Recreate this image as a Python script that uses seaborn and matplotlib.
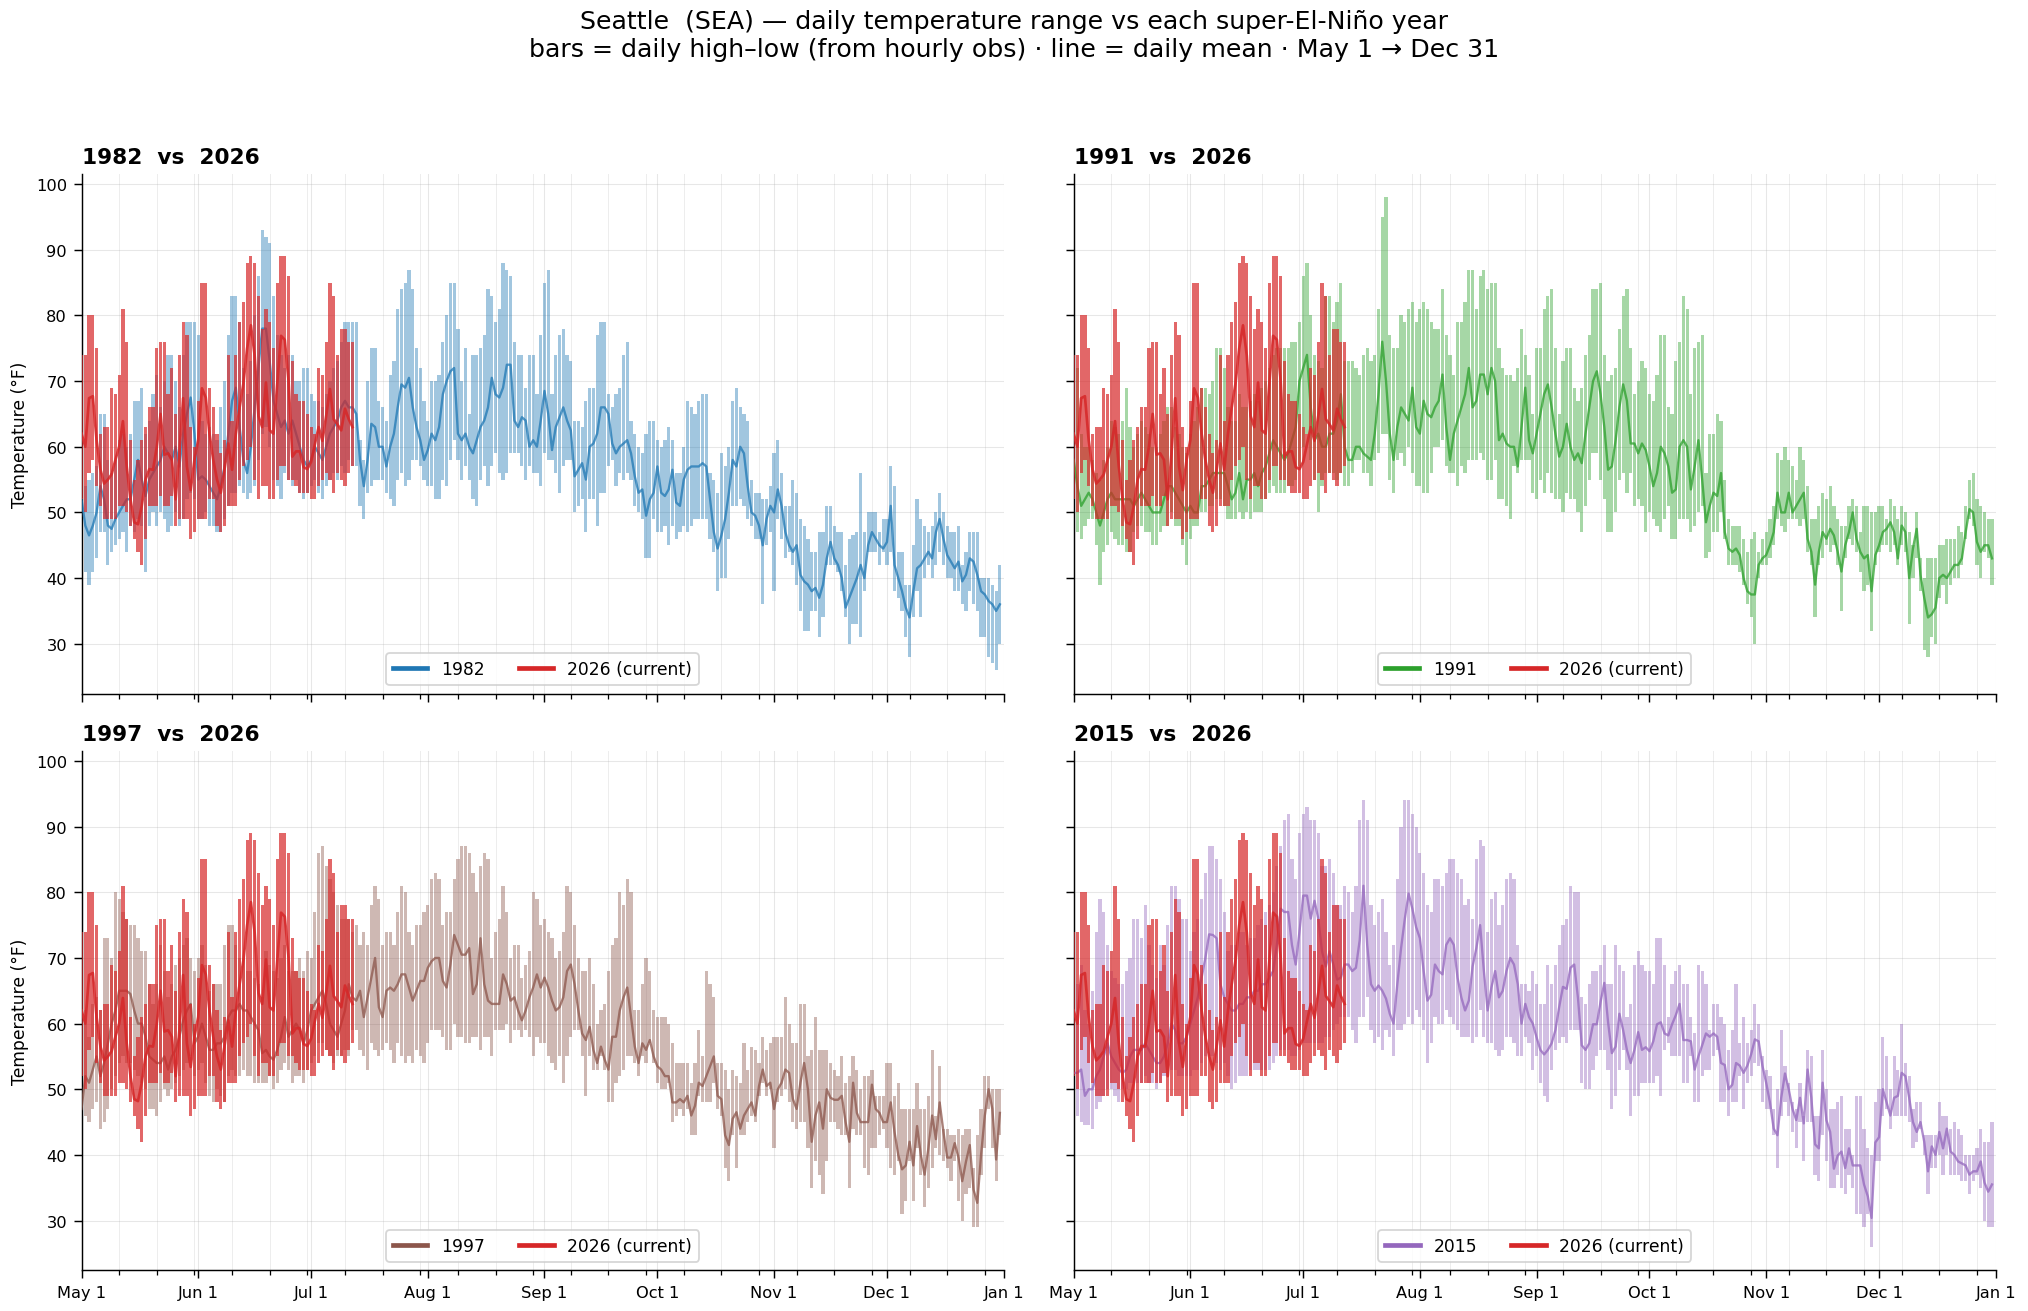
import numpy as np
import pandas as pd
import matplotlib
matplotlib.use("Agg")
import matplotlib.pyplot as plt
from matplotlib.lines import Line2D
from matplotlib.ticker import MultipleLocator, FixedLocator
import seaborn as sns

# x axis: day index counted from May 1 (0) to Dec 31 (244)
month_ticks = [0, 31, 61, 92, 123, 153, 184, 214, 245]
month_labels = ["May 1", "Jun 1", "Jul 1", "Aug 1", "Sep 1", "Oct 1", "Nov 1", "Dec 1", "Jan 1"]

# ---- 2026 (current), May 1 -> Jul 13 ----
lo_2026 = [52, 50, 56, 58, 54, 51, 49, 49, 49, 49, 51, 51, 50, 48, 46, 44, 42, 46, 51, 51,
           51, 52.5, 51, 51, 52.5, 48, 49, 49, 49, 46, 47, 49, 49, 49, 52, 52, 48, 47, 48, 51,
           51, 51, 55, 57, 58, 60, 55, 52, 54, 54, 52, 52, 55, 57, 57, 55, 55, 54, 53, 53,
           53, 52, 52, 54, 55, 56, 55, 53, 56, 55, 54, 56, 57]
hi_2026 = [74, 74, 80, 80, 75, 62, 63, 63, 69, 68, 71, 81, 76, 61, 55, 58, 61, 63, 66, 66,
           75, 76, 76, 68, 72, 65, 74, 79, 77, 63, 60, 67, 85, 85, 69, 66, 62, 59, 61, 74,
           64, 74, 79, 82, 88, 89, 88, 83, 78, 81, 79, 75, 85, 89, 89, 86, 73, 68, 67, 67,
           65, 63, 62, 72, 71, 76, 85, 83, 74, 78, 78, 76, 76]
mean_2026 = [62, 60, 67.4, 67.7, 61, 56.6, 54.4, 55, 55.8, 58, 60, 63.9, 57, 52, 48.5, 48.2, 51, 55, 56.6, 56.5,
             60, 65, 58.8, 59, 58, 52, 59, 67.4, 57, 53.4, 58, 61, 68.9, 67.5, 62, 58, 55, 53, 56.6, 60.5,
             56.5, 62, 66, 69.6, 75, 78.5, 73.9, 64.7, 63, 69.8, 62.5, 62, 69.6, 76.9, 76.3, 70.1, 58.5, 59.3, 59.3, 56.9,
             56.6, 57.7, 60.4, 63, 60.9, 64.7, 68.8, 64.2, 63.4, 62.5, 65.8, 64.2, 63]

# ---- 1982 ----
lo_1982 = [45, 41, 39, 41, 43, 47, 47, 42, 44, 45, 46, 47, 44, 48, 47, 49, 48, 41, 48, 50,
           48, 50, 49, 47, 48, 50, 48, 49, 52, 53, 52, 49, 49, 50, 48, 48, 47, 47, 49, 51,
           53, 53, 54, 53, 52, 53, 54, 58, 62, 63, 60, 55, 54, 52, 56, 55, 54, 55, 53, 52,
           53, 54, 55, 53, 52, 54, 55, 56, 55, 57, 56, 58, 57,
           57, 51, 49, 53, 54, 55, 55, 55, 53, 52, 51, 55, 56, 54, 55, 58, 58, 57, 55, 54,
           54, 52, 52, 55, 54, 58, 61, 58, 55, 57, 55, 52, 51, 55, 57, 54, 57, 59, 56, 55,
           56, 59, 59, 59, 57, 55, 57, 56, 56, 54,
           59, 58, 58, 56, 53, 57, 58, 58, 50, 51, 52, 47, 52, 52, 48, 53, 53, 57, 58, 54,
           56, 55, 56, 55, 51, 50, 49, 43, 43, 49, 47, 47, 48, 45, 48, 46, 47, 48, 47, 48,
           49, 49, 49, 49, 46, 44, 38, 40, 40, 46, 51, 51, 52, 51, 49, 48, 46, 46, 36, 45,
           47, 38, 49, 46, 43, 44, 42, 39, 35, 32, 32, 35, 35, 31, 34, 42, 42, 42, 41, 38,
           34, 30, 33, 33, 31, 38, 44, 44, 44, 42, 44, 42, 44, 38, 37, 35, 31, 28, 34, 38,
           34, 40, 42, 40, 42, 44, 42, 40, 40, 38, 38, 36, 35, 38, 36, 35, 31, 31, 28, 27,
           26, 30]
hi_1982 = [55, 54, 55, 56, 57, 65, 65, 58, 56, 58, 61, 62, 60, 62, 67, 67, 69, 62, 64, 68,
           71, 66, 70, 74, 74, 70, 66, 74, 79, 79, 79, 77, 64, 62, 63, 62, 61, 66, 70, 77,
           83, 83, 79, 72, 68, 73, 80, 86, 93, 92, 91, 83, 77, 74, 72, 74, 74, 70, 70, 72,
           72, 68, 67, 67, 66, 68, 70, 72, 73, 76, 79, 79, 79,
           79, 61, 58, 70, 75, 75, 67, 66, 64, 71, 73, 81, 84, 85, 87, 84, 75, 72, 67, 64,
           70, 70, 71, 76, 80, 85, 85, 78, 70, 75, 65, 74, 74, 75, 77, 84, 83, 79, 81, 88,
           87, 86, 76, 74, 74, 69, 74, 74, 68, 77,
           85, 87, 68, 74, 77, 78, 74, 73, 64, 64, 63, 67, 69, 69, 77, 79, 79, 68, 66, 68,
           69, 74, 76, 64, 62, 60, 59, 62, 64, 64, 61, 60, 61, 63, 61, 56, 56, 60, 67, 66,
           65, 67, 68, 68, 56, 55, 53, 59, 57, 60, 67, 69, 66, 65, 64, 55, 53, 53, 52, 52,
           54, 59, 61, 56, 51, 51, 55, 53, 49, 48, 46, 44, 44, 47, 47, 51, 51, 48, 47, 47,
           42, 46, 46.5, 47, 56, 47, 50, 50, 50, 47, 49, 49, 57, 54, 44, 44, 39, 39, 45, 52,
           49, 48, 47, 48, 50, 53, 50, 48, 47, 47, 48, 42, 44, 47, 47, 47, 40, 40, 40, 39,
           38, 42]
mean_1982 = [52, 48, 46.5, 48, 50, 54, 52, 48, 47.5, 49, 50, 51, 52, 52, 55, 58, 55, 52.5, 55, 56,
             57, 58, 60, 59, 58, 60, 57, 62, 65, 67.5, 62, 55, 55.5, 55, 54, 53, 52, 54, 57, 62,
             67, 69, 63, 58, 56, 60, 66, 72, 78, 78, 73, 67, 65, 63, 64, 62, 64, 62, 60, 58,
             57, 58, 60, 59, 58, 60, 62, 63, 64, 66, 67, 66, 66,
             65, 58, 54, 58, 63.5, 63, 60, 60, 57, 60, 62, 66, 69.5, 69, 70.5, 66, 63, 61, 58, 59.5,
             62, 61, 63, 68, 70, 71.5, 72, 62, 61, 62, 60, 59, 61, 63, 64, 66, 70.5, 68, 67.5, 69,
             72.5, 72.5, 64, 63, 64.5, 64, 60, 61, 60, 64,
             68.5, 65, 59.5, 63, 64.5, 66, 64, 62.5, 55.5, 56.5, 57.5, 55, 60, 60.5, 62, 66, 66, 65, 60.5, 59,
             60, 60.5, 61, 59, 55.5, 53, 53.5, 49.5, 52, 53, 57, 53, 52.5, 53.5, 56.5, 51.5, 51, 55, 56.5, 57,
             57, 57, 57.5, 57, 52, 47, 44.5, 46.5, 49, 53, 58, 57, 60, 59, 54, 50, 49.5, 48, 45, 49,
             51, 50, 53.5, 51, 47, 45, 44, 45, 40.5, 39.5, 39, 38, 38.5, 37, 39, 43, 45.5, 43, 42, 40,
             35.5, 37, 38.5, 40, 42, 40, 45, 47, 46, 45, 44.5, 45.5, 51, 42, 40, 38, 35.5, 34, 38, 41.5,
             42, 43, 44, 43, 47, 49, 46, 43.5, 42.5, 41.5, 42.5, 39.5, 40.5, 43, 42.5, 40.5, 38, 37.5, 36.5, 36,
             35, 36]

# ---- 1991 ----
lo_1991 = [47, 47, 46, 48, 49, 49, 45, 39, 44, 45, 47, 46, 45, 45, 44, 44, 47, 48, 48, 47,
           47, 45, 45, 47, 48, 48, 50, 48, 48, 45, 42, 46, 48, 48, 50, 50, 51, 51, 52, 52,
           51, 49, 49, 49, 50, 49, 50, 49, 50, 50, 50, 52, 53, 54, 53, 53, 53, 54, 54, 55,
           57, 60, 62, 58, 55, 50, 54, 56, 56, 56, 55, 56,
           54, 54, 56, 58, 58, 56, 56, 54, 58, 59, 62, 62, 55, 53, 58, 59, 57, 60, 56, 54,
           54, 53, 53, 56, 60, 60, 61, 57, 56, 56, 54, 57, 56, 58, 58, 58, 59, 58, 55, 55,
           58, 52, 52, 51, 49, 57, 56,
           58, 58, 58, 53,
           52, 55, 53, 56, 53, 52, 52, 50, 53, 52, 52, 50, 47, 51, 55, 59, 59, 55, 52, 47,
           47, 50, 55, 56, 53, 56, 51, 52, 51, 47, 50, 49, 48, 47, 49, 51, 46, 46, 49, 49,
           49, 47, 48, 50, 51, 43, 44, 47, 47, 50, 46, 42, 42, 42, 41, 39, 36, 34, 30, 40,
           42, 42, 43, 45, 49, 48, 47, 49, 49, 49, 48, 49, 44, 42, 34, 42, 43, 45, 44, 45,
           42, 35, 43, 46, 45, 44, 41, 38, 39, 32, 42, 44, 45, 45, 44, 45, 42, 45, 44, 33,
           40, 43, 38, 29, 28, 31, 30, 37, 39, 36, 39, 40, 40, 42, 46, 49, 48, 42, 40, 44,
           43, 39]
hi_1991 = [66, 72, 62, 60, 60, 58, 56, 55, 58, 60, 64, 63, 62, 64, 69, 63, 60, 62, 64, 63,
           62, 60, 60, 62, 64, 66, 66, 63, 62, 60, 59, 62, 64, 66, 69, 69, 68, 70, 75, 75,
           72, 66, 64, 64, 68, 66, 66, 67, 68, 67, 69, 70, 72, 74, 75, 75, 75, 75, 76, 76,
           79, 86, 88, 80, 74, 73, 72, 83, 83, 79, 82, 85,
           73, 73, 73, 72, 71, 74, 75, 73, 74, 81, 95, 98, 77, 75, 75, 80, 79, 81, 82, 79,
           81, 82, 81, 79, 78, 78, 84, 77, 74, 71, 79, 79, 82, 87, 87, 81, 86, 87, 84, 85,
           85, 75, 72, 71, 71, 70, 72,
           78, 74, 71, 65,
           75, 75, 81, 83, 84, 75, 65, 73, 75, 75, 69, 67, 69, 74, 77, 84, 84, 85, 74, 70,
           71, 72, 78, 83, 84, 75, 68, 70, 73, 72, 68, 67, 71, 77, 77, 66, 65, 73, 76, 83,
           81, 68, 75, 76, 77, 56, 62, 62, 65, 64, 55, 49, 48, 48, 48, 46, 44, 46, 47, 44,
           46, 47, 49, 51, 59, 58, 60, 58, 57, 55, 60, 58, 54, 49, 49, 51, 53, 52, 54, 51,
           49, 48, 48, 51, 52, 51, 47, 51, 51, 50, 50, 51, 51, 49, 52, 51, 49, 51, 50, 47,
           45, 50, 43, 40, 43, 43, 43, 45, 45, 46, 46, 46, 48, 47, 51, 55, 56, 52, 51, 50,
           49, 49]
mean_1991 = [58, 54, 51, 52, 53, 52, 50, 48, 50, 52, 53, 52, 52, 52, 52, 52, 51, 52, 53, 52,
             51, 50, 50, 50, 52, 54, 54, 53, 52, 51, 50, 51, 50, 50, 54, 54, 55, 56, 56, 56,
             56, 54, 52, 53, 56, 52, 55, 55, 56, 54, 56, 57, 59, 61, 60, 59, 58, 59, 61, 63,
             70, 72, 74, 66, 61, 62, 60, 60, 62, 62, 64, 68,
             60, 58, 58, 60, 60, 59, 58.5, 58, 62, 68, 76, 70, 62, 58, 63, 66, 65, 64, 69, 63,
             62, 67, 65, 64.5, 66, 67, 71, 63, 58, 62, 64, 66, 68, 72, 66, 67, 71, 71, 68, 72,
             70, 61, 62, 60.5, 60, 60, 57,
             63, 69, 61, 59,
             62, 65, 68, 69.5, 66, 62, 58.5, 60, 63.5, 60, 58, 59, 57.5, 62, 66, 70, 71.5, 68, 63, 56.5,
             57, 61, 66, 69.5, 67, 60.5, 60.5, 59, 60.5, 59.5, 57, 54, 56, 60, 59, 57, 53, 53.5, 60, 61,
             60, 53.5, 57, 61, 55, 48.5, 51, 53, 52.5, 56, 47, 44.5, 44, 44.5, 43.5, 40, 38, 37.5, 37.5, 42,
             43, 43.5, 45, 47, 53, 50, 50, 53, 50, 51, 52, 53, 46, 44, 39, 44, 47, 46, 47.5, 46.5,
             44, 41, 45, 47, 50, 46, 44, 43, 43.5, 38, 43.5, 45, 47, 47.5, 48.5, 47, 43, 48, 47, 40,
             44.5, 47.5, 40.5, 37, 34, 34.5, 35.5, 40, 40.5, 40, 41, 42, 42, 43, 47, 50.5, 50, 45.5, 44, 45,
             45, 43]

# ---- 1997 ----
lo_1997 = [38, 46, 45, 47, 48, 44, 45, 47, 50, 52, 54, 55, 54, 54, 53, 52, 51, 50, 47, 47,
           46, 48, 50, 49, 50, 51, 52, 53, 54, 55, 52, 53, 54, 51, 49, 48, 50, 49, 48, 52,
           53, 52, 52, 53, 52, 52, 51, 51, 51, 51, 52, 50, 51, 53, 54, 53, 51, 52, 52, 51,
           53, 54, 55, 57, 57, 56, 55, 54, 55, 55, 56, 55,
           59, 59, 56, 55, 53, 57, 56, 55, 56, 57, 56, 54, 57, 55, 54, 55, 54, 56, 55, 54,
           57, 59, 59, 59, 58, 56, 56, 60, 58, 58, 57, 57, 58, 58, 56, 58, 58, 55, 59, 59,
           59, 60, 57, 59, 59, 58, 59, 58, 55, 58, 57,
           57, 55, 54, 53, 55, 51, 55, 58, 59, 59, 55, 49, 55, 53, 53, 55, 53, 48, 48, 51,
           52, 53, 55, 55, 54, 52, 55, 54, 57, 54, 51, 50, 50, 51, 45, 46, 47, 46, 47, 43,
           43, 49, 48, 48, 48, 51, 47, 46, 38, 36, 43, 38, 43, 43, 45, 46, 45, 49, 51, 49,
           50, 41, 48, 49, 50, 48, 45, 44, 45, 45, 41, 35, 39, 37, 34, 39, 45, 45, 44, 43,
           43, 35, 44, 43, 43, 38, 37, 41, 41, 43, 44, 41, 38, 37, 39, 31, 33, 39, 33, 41,
           37, 32, 35, 38, 41, 40, 39, 38, 36, 39, 33, 30, 34, 35, 29, 29, 37, 41, 47, 41,
           36, 43]
hi_1997 = [64, 62, 58, 63, 64, 62, 73, 73, 70, 80, 79, 77, 76, 75, 75, 73, 71, 71, 66, 63,
           66, 72, 68, 64, 66, 69, 70, 72, 73, 70, 68, 70, 72, 69, 65, 66, 66, 66, 72, 75,
           75, 72, 70, 70, 68, 68, 67, 66, 64, 71, 69, 68, 67, 70, 72, 68, 68, 68, 70, 68,
           71, 70, 77, 86, 87, 84, 82, 80, 78, 76, 76, 76,
           74, 75, 72, 74, 72, 78, 81, 79, 72, 74, 74, 72, 77, 81, 80, 74, 72, 75, 75, 77,
           78, 82, 83, 82, 75, 77, 77, 82, 85, 87, 87, 86, 83, 80, 84, 86, 85, 70, 74, 76,
           81, 77, 70, 72, 72, 67, 69, 71, 80, 79, 75,
           76, 74, 73, 70, 71, 74, 81, 80, 75, 70, 68, 68, 70, 66, 60, 62, 63, 68, 72, 73,
           80, 78, 82, 80, 62, 62, 66, 70, 68, 62, 61, 61, 61, 60, 57, 54, 54, 54, 54, 51,
           54, 59, 55, 68, 66, 64, 54, 54, 53, 50, 53, 52, 51, 57, 53, 56.5, 56, 54, 58, 56,
           57, 58, 58, 58, 64, 60, 57, 57, 63, 63, 55, 56, 61, 56, 56, 56, 54, 53, 52, 55,
           51, 52, 55, 53, 50, 52, 52, 53, 49, 49, 49, 54, 54, 49, 51, 47, 47, 47, 47, 51,
           47, 47, 49, 56, 46, 53.5, 44, 44, 43, 43, 44, 43, 44, 44, 38, 43, 47, 52, 52, 50,
           50, 50]
mean_1997 = [47, 52, 51, 53, 55, 52, 54, 57, 60, 62, 65, 65, 65, 64.5, 62, 60, 60, 58, 55, 54.5,
             54, 54, 55, 53, 55, 56, 58, 60.5, 62, 63, 57, 58, 60, 58, 56, 56, 57, 57, 58, 61,
             62, 62, 63, 62, 62, 61, 60, 59, 55.5, 56, 55, 54.5, 56, 58, 61, 58, 59, 60, 59, 57,
             59, 62, 63, 64, 65, 63, 60, 59, 58, 60, 62, 66,
             64, 63.5, 65, 61, 64, 67, 70, 62.5, 61, 65, 65.5, 65, 66, 67.5, 67.5, 65.5, 63.5, 65, 66.5, 66.5,
             68.5, 69.5, 70, 70, 66.5, 65.5, 69, 73.5, 72, 70.5, 70.5, 71.5, 64.5, 66, 73, 66, 63.5, 63, 63, 63,
             67.5, 66, 63.5, 64, 62, 60.5, 62, 64, 65.5, 67.5, 65.5,
             67, 65.5, 63.5, 62, 62.5, 64, 68, 69, 66, 62, 58.5, 57.5, 59.5, 56, 54, 56.5, 54.5, 53, 58, 58,
             62, 64, 65.5, 61, 56.5, 54, 57, 56, 57.5, 55, 53.5, 53, 52, 52, 48, 48, 48.5, 48, 49, 46,
             47.5, 51, 50.5, 52, 53.5, 55, 49, 48.5, 43, 41.5, 45.5, 46.5, 44, 46, 47, 48, 46, 50.5, 53, 50.5,
             51, 47, 50, 51, 53, 52.5, 48.5, 47, 51, 54, 50, 42, 46, 48, 44, 50, 48.7, 48.4, 48.4, 49,
             45, 42, 51, 46.4, 45, 45, 45, 50.7, 47, 46.4, 45, 45, 48, 43.5, 40, 37.8, 38.4, 42, 38.4, 44.4,
             40, 37, 41, 46, 42.4, 48, 43.5, 39.6, 39.6, 41.8, 39.6, 36, 39, 41.5, 34.7, 32.7, 40, 46, 50, 47,
             39.3, 46.4]

# ---- 2015 ----
lo_2015 = [47, 46, 45, 44.5, 44.5, 44, 47, 48, 49, 50, 50, 49, 48, 50, 50, 51, 51, 51, 51, 52,
           51, 51, 50, 51, 52, 52, 53, 53, 52, 52, 52, 52, 53, 53, 54, 55, 55, 55, 54, 53,
           54, 52, 50, 51, 52, 52, 52, 53, 53, 53, 53, 53, 53, 54, 55, 56, 56, 56, 55, 55,
           56, 57, 57, 57, 57, 57, 57, 58, 58, 59, 60,
           61, 61, 61, 59, 57, 61, 61, 64, 59, 57, 58, 56, 59, 58, 55, 59, 59, 60, 61, 60,
           62, 61, 59, 54, 57, 61, 60, 60, 62, 61, 60, 59, 58, 58, 58, 57, 58, 62, 58, 57,
           57, 56, 55, 56, 58, 58, 57, 55, 55, 58, 57, 53,
           55, 51, 49, 48, 53, 56, 57, 58, 57, 59, 59, 59, 51, 50, 50, 53, 55, 56, 56, 53,
           47, 49, 53, 56, 53, 46, 49, 49, 51, 51, 51, 51, 52, 49, 56, 57, 55, 55, 55, 51,
           51, 55, 48, 48, 52, 53, 53, 55, 56, 48, 48, 46, 48, 48, 52, 47, 51, 52, 54, 53.5,
           48, 47, 47, 43, 38, 46, 48, 46, 43.5, 41, 45, 39, 45, 45, 37, 36, 43, 39, 35, 35,
           37, 35, 34, 37, 35, 31, 31, 29, 31, 26, 39, 39, 46, 47, 44, 46, 46, 46, 46, 45,
           41, 42, 44, 40, 34, 38, 38, 40, 37, 40, 37, 37, 37, 36, 36, 34, 36, 37, 35, 30,
           29, 29]
hi_2015 = [66, 66, 69, 62, 60, 65, 74, 79, 77, 72, 68, 67, 66, 66, 68, 70, 76, 76, 73, 78,
           72, 69, 67, 72, 69, 75, 81, 81, 79, 76, 76, 71, 74, 76, 79, 83, 87, 87, 85, 82,
           77, 71, 72, 72, 74, 74, 72, 73, 73, 75, 76, 77, 78, 80, 84, 87, 91, 92, 85, 82,
           89, 92, 93, 91, 91, 89, 84, 84, 85, 83, 78,
           78, 81, 80, 77, 81, 91, 94, 91, 78, 75, 77, 79, 74, 69, 72, 82, 90, 94, 94, 92,
           90, 86, 83, 78, 77, 82, 82, 81, 83, 85, 85, 83, 82, 78, 79, 76, 85, 88, 87, 74,
           79, 80, 75, 78, 82, 83, 82, 72, 66, 66, 65, 68,
           66, 63, 63, 69, 66, 69, 72, 75, 76, 81, 80, 80, 64, 63, 66, 68, 68, 69, 72, 66,
           66, 72, 69, 68, 61, 63, 69, 71, 69, 68, 68, 66, 73, 73, 69, 61, 66, 68, 69, 66,
           66, 61, 58.5, 69, 68, 66, 59, 63, 63, 61, 60, 56, 59, 66, 57, 61, 57, 59, 63, 60,
           55, 53, 52, 47, 50, 59, 53.5, 51, 48, 47, 51, 46, 56, 55, 46, 46, 56, 50, 47, 47,
           48, 49, 44, 44, 40, 49, 49, 44, 41, 40, 48, 50, 58, 55, 50, 55, 53, 60, 54, 52,
           47, 48, 48, 43, 43, 43, 43, 48, 46, 46, 44, 45, 44, 43, 40, 40, 40, 41, 44, 42,
           42, 45]
mean_2015 = [52.5, 52.5, 53, 49, 50, 50, 52, 53, 55, 57, 55, 54, 53, 52.5, 53, 55, 56, 56, 56, 57,
             56, 55, 54, 54, 55, 57, 60, 59, 57, 57, 58, 60, 62, 64, 67, 70, 73.6, 73.5, 73, 66,
             64, 63, 62, 62, 63, 63, 64, 64, 65, 65, 66, 66, 67, 68, 72, 77.5, 77, 77, 72, 69,
             74, 79.5, 79.5, 76, 78.7, 76, 71, 68.7, 71, 69, 66.7,
             67, 69, 69, 68, 68.5, 72.7, 81, 72, 66, 65, 65.8, 65, 63.8, 61.5, 60, 66, 71.5, 76, 79.8, 77.5,
             74.7, 73, 68, 63.5, 64.4, 69, 68, 67.5, 72, 73, 72, 67, 64, 62, 63.5, 68.7, 71.5, 75, 68, 62,
             65.5, 68, 64, 65, 68, 70, 69, 66, 60, 63, 61, 60,
             57.9, 56, 55.3, 56, 57, 59, 62.5, 65.6, 65.3, 68.5, 69, 63.9, 56.7, 56, 57, 59.9, 59.9, 63.3, 66.2, 60.2,
             55.5, 56.5, 61.5, 59, 56, 54, 56, 58.7, 56, 56.4, 55.8, 57.3, 59.9, 60.2, 58.5, 58.2, 59.9, 61.3, 63, 57.5,
             57.5, 57.3, 53, 55, 56.7, 58.5, 58, 58.5, 58, 54, 53.7, 50, 50.7, 54, 53.6, 52.5, 53.6, 55.3, 57.6, 57.3,
             53.6, 51, 48, 44, 43, 48.7, 52.4, 50, 47, 45.3, 48.7, 44.8, 53, 48.7, 41.6, 41, 51, 45.3, 43.5, 37.9,
             39.9, 40.5, 38, 41, 38.4, 38.4, 38.4, 35.5, 33.7, 30.4, 41.9, 42.7, 50, 48, 46, 48.7, 49, 52.5, 52, 48.7,
             45, 43.5, 45, 42, 37.5, 41.3, 40, 43.5, 41, 44, 40.5, 40, 39, 38.7, 38.4, 37, 37.5, 37.5, 39, 35.8,
             34.4, 35.5]

years = ["1982", "1991", "1997", "2015"]
year_colors = ["#1f77b4", "#2ca02c", "#8c564b", "#9467bd"]
current_color = "#d62728"

series = {
    "1982": (lo_1982, hi_1982, mean_1982),
    "1991": (lo_1991, hi_1991, mean_1991),
    "1997": (lo_1997, hi_1997, mean_1997),
    "2015": (lo_2015, hi_2015, mean_2015),
}
for k, (a, b, c) in series.items():
    assert len(a) == len(b) == len(c) == 245, (k, len(a), len(b), len(c))
assert len(lo_2026) == len(hi_2026) == len(mean_2026)

plt.rcParams["font.family"] = ["DejaVu Sans"]

fig, axes = plt.subplots(2, 2, figsize=(15.6, 10.092), dpi=130, sharex=True, sharey=True)
fig.subplots_adjust(left=0.0402, right=0.9841, top=0.8669, bottom=0.0309,
                    wspace=0.0759, hspace=0.1094)

days26 = np.arange(len(lo_2026))
lo26 = np.array(lo_2026)
hi26 = np.array(hi_2026)

for ax, yr, col in zip(axes.flat, years, year_colors):
    lo, hi, mean = series[yr]
    lo = np.array(lo)
    hi = np.array(hi)
    days = np.arange(len(lo))

    ax.bar(days, hi - lo, bottom=lo, width=0.85, color=col, alpha=0.42, linewidth=0, zorder=2)
    sns.lineplot(x=days, y=mean, ax=ax, color=col, lw=1.3, alpha=0.75, zorder=3)

    ax.bar(days26, hi26 - lo26, bottom=lo26, width=0.85, color=current_color, alpha=0.7,
           linewidth=0, zorder=4)
    sns.lineplot(x=days26, y=mean_2026, ax=ax, color=current_color, lw=1.5, alpha=0.85, zorder=5)

    ax.set_title(f"{yr}  vs  2026", loc="left", fontweight="bold", fontsize=12)
    ax.set_ylabel("Temperature (°F)", fontsize=9.5)
    ax.set_xlabel("")

    ax.xaxis.set_major_locator(FixedLocator(month_ticks))
    ax.set_xticklabels(month_labels)
    ax.xaxis.set_minor_locator(MultipleLocator(10))
    ax.yaxis.set_major_locator(MultipleLocator(10))
    ax.tick_params(axis="both", which="major", labelsize=9, length=4.5, width=0.8)
    ax.tick_params(axis="x", which="minor", length=2.5, width=0.7)

    ax.grid(True, which="major", color="#b0b0b0", lw=0.6, alpha=0.3)
    ax.grid(True, which="minor", axis="x", color="#b0b0b0", lw=0.5, alpha=0.25)
    ax.set_axisbelow(True)

    handles = [Line2D([0], [0], color=col, lw=2.6),
               Line2D([0], [0], color=current_color, lw=2.6)]
    leg = ax.legend(handles, [yr, "2026 (current)"], loc="lower center", ncol=2, fontsize=9.5)
    leg.set_zorder(10)

sns.despine(fig=fig)

axes[0, 0].set_xlim(0, 245)
axes[0, 0].set_ylim(22.4, 101.6)

fig.suptitle("Seattle  (SEA) — daily temperature range vs each super-El-Niño year\n"
             "bars = daily high–low (from hourly obs) · line = daily mean · May 1 → Dec 31",
             fontsize=14, y=0.992, va="top")

fig.savefig("out.png", dpi=130)
